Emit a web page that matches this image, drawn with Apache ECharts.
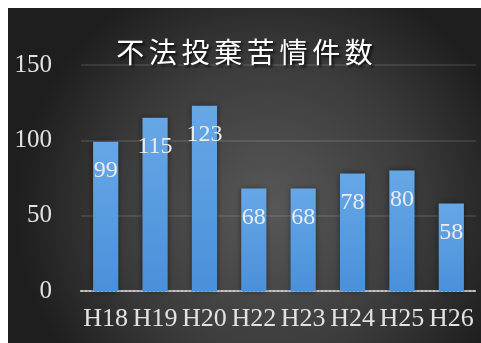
<!DOCTYPE html>
<html>
<head>
<meta charset="utf-8">
<script src="https://cdn.jsdelivr.net/npm/echarts@6/dist/echarts.min.js"></script>
<style>
  html, body { margin: 0; padding: 0; background: #ffffff; }
  #chart { position: absolute; left: 8px; top: 8px; width: 473px; height: 335px; }
</style>
</head>
<body>
<div id="chart"></div>
<script>
// 不法投棄苦情件数（年度別）
const titleText = '不法投棄苦情件数';
const categories = ['H18', 'H19', 'H20', 'H22', 'H23', 'H24', 'H25', 'H26'];
const complaints = [99, 115, 123, 68, 68, 78, 80, 58];
const yTicks = { min: 0, max: 150, interval: 50 };

const serif = "'Liberation Serif', 'Times New Roman', serif";

const chart = echarts.init(document.getElementById('chart'));
chart.setOption({
  backgroundColor: {
    type: 'radial', x: 0.55, y: 0.6, r: 0.75,
    colorStops: [
      { offset: 0, color: '#585858' },
      { offset: 0.6, color: '#3b3b3b' },
      { offset: 1, color: '#1e1e1e' }
    ]
  },
  animation: false,
  title: {
    // slight spacing between the characters
    text: titleText.split('').join('\u2006'),
    left: 'center',
    top: 25,
    textStyle: {
      fontFamily: "'Noto Sans CJK JP', sans-serif",
      fontSize: 28,
      fontWeight: 'normal',
      color: '#ffffff',
      textShadowColor: 'rgba(0,0,0,0.85)',
      textShadowBlur: 3,
      textShadowOffsetX: 2,
      textShadowOffsetY: 2
    }
  },
  grid: { left: 73, right: 5, top: 57, bottom: 52, containLabel: false },
  xAxis: {
    type: 'category',
    data: categories,
    axisLine: { show: true, lineStyle: { color: '#c8c8c8', width: 2, type: [2, 2] } },
    axisTick: { show: false },
    axisLabel: {
      interval: 0,
      margin: 15,
      color: '#e2e2e2',
      fontFamily: serif,
      fontSize: 26
    }
  },
  yAxis: {
    type: 'value',
    min: yTicks.min,
    max: yTicks.max,
    interval: yTicks.interval,
    axisLine: { show: false },
    axisTick: { show: false },
    axisLabel: {
      margin: 29,
      color: '#e2e2e2',
      fontFamily: serif,
      fontSize: 25
    },
    splitLine: { lineStyle: { color: 'rgba(255,255,255,0.1)', width: 2 } }
  },
  series: [{
    type: 'bar',
    data: complaints,
    barWidth: '51%',
    itemStyle: {
      color: {
        type: 'linear', x: 0, y: 0, x2: 0, y2: 1,
        colorStops: [
          { offset: 0, color: '#66a7e6' },
          { offset: 1, color: '#4a90da' }
        ]
      },
      shadowColor: 'rgba(0,0,0,0.45)',
      shadowBlur: 6
    },
    label: {
      show: true,
      position: 'insideTop',
      distance: 17,
      color: '#ececec',
      fontFamily: serif,
      fontSize: 24
    }
  }]
});
</script>
</body>
</html>
